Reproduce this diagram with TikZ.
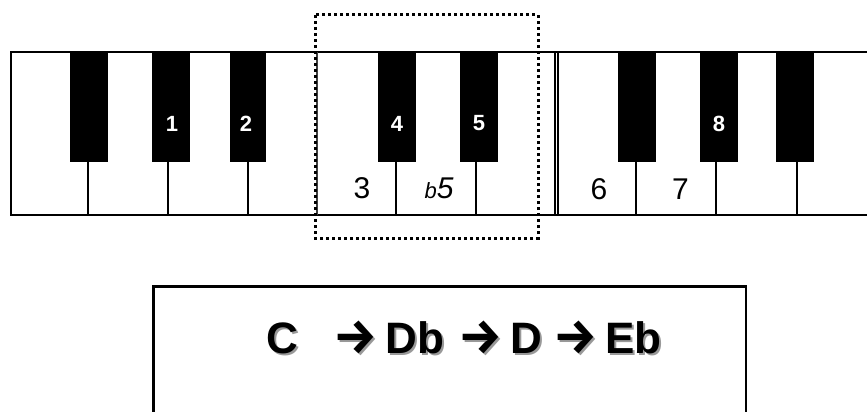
\documentclass[tikz,border=0pt]{standalone}
\usepackage{fontspec}
\setmainfont{Liberation Sans}
\newfontfamily\arrowfnt{Fira Sans}
\newcommand{\seqarrow}{\makebox[0pt]{\arrowfnt\bfseries\fontsize{49}{49}\selectfont →}}
\newcommand{\seqline}{\makebox[0pt]{C}\hspace{72.5pt}\seqarrow\hspace{60pt}\makebox[0pt]{Db}\hspace{65pt}\seqarrow\hspace{46.5pt}\makebox[0pt]{D}\hspace{48.5pt}\seqarrow\hspace{58pt}\makebox[0pt]{Eb}}
\begin{document}
\begin{tikzpicture}[x=1pt,y=-1pt,
  keyline/.style={line width=2pt, black},
  blackkey/.style={fill=black},
  blabel/.style={text=white, font=\fontsize{22}{22}\selectfont\bfseries, inner sep=0pt},
  wlabel/.style={text=black, font=\fontsize{30}{30}\selectfont, inner sep=0pt},
  seqtext/.style={font=\fontsize{44}{44}\selectfont\bfseries, inner sep=0pt, anchor=base west},
  dotbox/.style={line width=3pt, dash pattern=on 3pt off 3pt}
  ]
\useasboundingbox (0,0) rectangle (867,412);
\clip (0,0) rectangle (867,412);
\fill[white] (0,0) rectangle (867,412);
% keyboard body
\draw[keyline] (875,52.5) -- (11,52.5) -- (11,215) -- (875,215);
% section boundaries
\draw[line width=1.6pt, black!75] (317,52.5) -- (317,215);
\draw[line width=1.2pt] (555,52.5) -- (555,215);
\draw[line width=1.2pt] (558,52.5) -- (558,215);
% lower dividers
\foreach \x in {88,168,248,396,476,636,716,797}
  \draw[keyline] (\x,160) -- (\x,215);
% black keys
\foreach \a/\b in {70/108,152/190,230/266,378/416,460/498,618/656,700/738,776/814}
  \fill[blackkey] (\a,52.5) rectangle (\b,162);
% labels on black keys
\node[blabel] (k1) at (172,123.5) {1};
\node[blabel] (k2) at (246,123.5) {2};
\node[blabel] (k4) at (397,123.5) {4};
\node[blabel] (k5) at (479,123.5) {5};
\node[blabel] (k8) at (719,123.5) {8};
% labels on white keys
\node[wlabel] (w3) at (362,188) {3};
\node[wlabel] (wb5) at (439,188) {\itshape{\fontsize{22}{22}\selectfont b}5};
\node[wlabel] (w6) at (599,189) {6};
\node[wlabel] (w7) at (680.5,189) {7};
% dotted highlight
\draw[dotbox] (315,15) rectangle (538,238);
% lower box
\draw[line width=2.5pt] (153.3,430) -- (153.3,286.7) -- (746,286.7) -- (746,430);
\node[seqtext, text=black!40] (seqshadow) at (284.5,355) {\seqline};
\node[seqtext] (seq) at (282.5,353) {\seqline};
\end{tikzpicture}
\end{document}
